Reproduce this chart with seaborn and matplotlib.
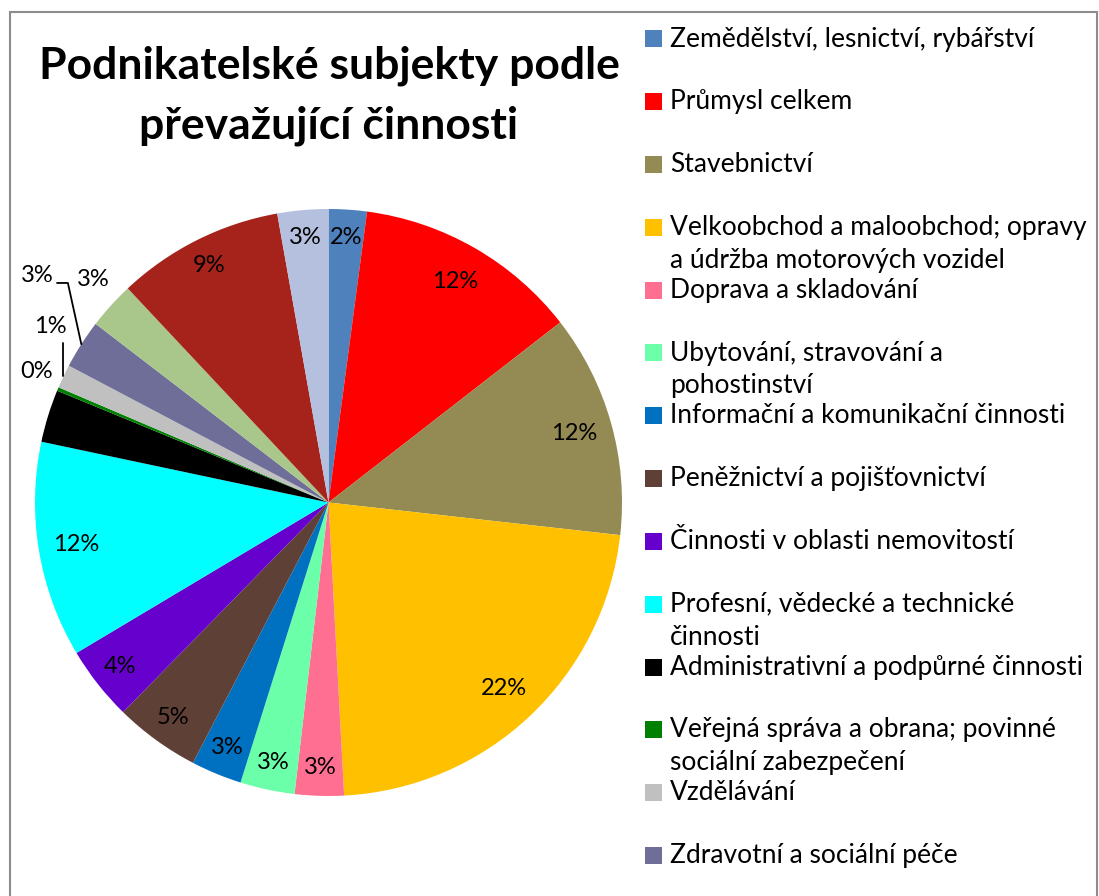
import numpy as np
import matplotlib
matplotlib.use("Agg")
import matplotlib.pyplot as plt
import seaborn as sns
from matplotlib.patches import Rectangle

# data (shares in %)
categories = [
    "Zemědělství, lesnictví, rybářství",
    "Průmysl celkem",
    "Stavebnictví",
    "Velkoobchod a maloobchod; opravy\na údržba motorových vozidel",
    "Doprava a skladování",
    "Ubytování, stravování a\npohostinství",
    "Informační a komunikační činnosti",
    "Peněžnictví a pojišťovnictví",
    "Činnosti v oblasti nemovitostí",
    "Profesní, vědecké a technické\nčinnosti",
    "Administrativní a podpůrné činnosti",
    "Veřejná správa a obrana; povinné\nsociální zabezpečení",
    "Vzdělávání",
    "Zdravotní a sociální péče",
    "Kulturní, zábavní a rekreační činnosti",
    "Ostatní činnosti",
    "Nezjištěno",
]
shares = [2.1, 12.4, 12.3, 22.4, 2.7, 3.0, 2.8, 4.7, 4.1, 11.9, 2.9, 0.2, 1.3, 2.7, 2.6, 9.2, 2.8]
colors = ["#4F81BD", "#FF0000", "#948A54", "#FFC000", "#FF6F91", "#6CFFAA",
          "#0070C0", "#5F4037", "#6600CC", "#00FFFF", "#000000", "#008000",
          "#C0C0C0", "#6E6E98", "#A9C68B", "#A5231B", "#B4C0DE"]
n_legend = 14  # legend in the original is cut off after 14 entries

sns.set_theme(style="white")
plt.rcParams['font.family'] = ['Lato', 'DejaVu Sans']
plt.rcParams['text.color'] = 'black'

W, H = 1099, 896
fig = plt.figure(figsize=(W / 100, H / 100), dpi=100)
fig.patch.set_facecolor("white")

# pie axes: centre (328.5, 502.5) px, radius 293.5 px
cx, cy, r = 328.5, 502.5, 293.5
ax = fig.add_axes([(cx - r) / W, (H - cy - r) / H, 2 * r / W, 2 * r / H])
wedges, texts, autotexts = ax.pie(
    shares, colors=colors, startangle=90, counterclock=False,
    autopct='%1.0f%%', pctdistance=0.87,
    textprops=dict(fontsize=17, color='black'),
    wedgeprops=dict(linewidth=0))
ax.set_xlim(-1, 1)
ax.set_ylim(-1, 1)

def mid(i, rad=1.0):
    w = wedges[i]
    a = np.deg2rad((w.theta1 + w.theta2) / 2)
    return rad * np.cos(a), rad * np.sin(a)

# narrow slices: labels sit a bit closer to the rim
for i, s in enumerate(shares):
    if s < 10:
        autotexts[i].set_position(mid(i, 0.905))

# small slices on the left get outside labels
autotexts[14].set_position((-0.80, 0.76))
autotexts[13].set_position((-0.993, 0.775))
autotexts[12].set_position((-0.949, 0.601))
autotexts[11].set_position((-0.993, 0.445))

mx, my = mid(13)
ax.plot([-0.925, -0.888, mx], [0.748, 0.748, my], color='black', lw=1.3, clip_on=False)
mx, my = mid(12)
ax.plot([mx, mx], [my, 0.543], color='black', lw=1.3, clip_on=False)

# title
fig.text(329 / W, 1 - 66 / H, "Podnikatelské subjekty podle", ha='center', va='center',
         fontsize=32, fontweight='bold')
fig.text(329 / W, 1 - 126 / H, "převažující činnosti", ha='center', va='center',
         fontsize=32, fontweight='bold')

# legend (drawn by hand to keep Excel-like fixed spacing)
for i in range(n_legend):
    y0 = 39 + 62.8 * i
    fig.add_artist(Rectangle((645 / W, 1 - (y0 + 8.5) / H), 17 / W, 17 / H,
                             transform=fig.transFigure, facecolor=colors[i], edgecolor='none'))
    for j, line in enumerate(categories[i].split("\n")):
        fig.text(670 / W, 1 - (y0 + 33 * j) / H, line, ha='left', va='center', fontsize=19)

# chart border
fig.add_artist(Rectangle((10 / W, -0.02), (1097 - 10) / W, (H - 12) / H + 0.02,
                         transform=fig.transFigure, fill=False, edgecolor='#8C8C8C', lw=1.5))

fig.savefig("out.png", dpi=100)
